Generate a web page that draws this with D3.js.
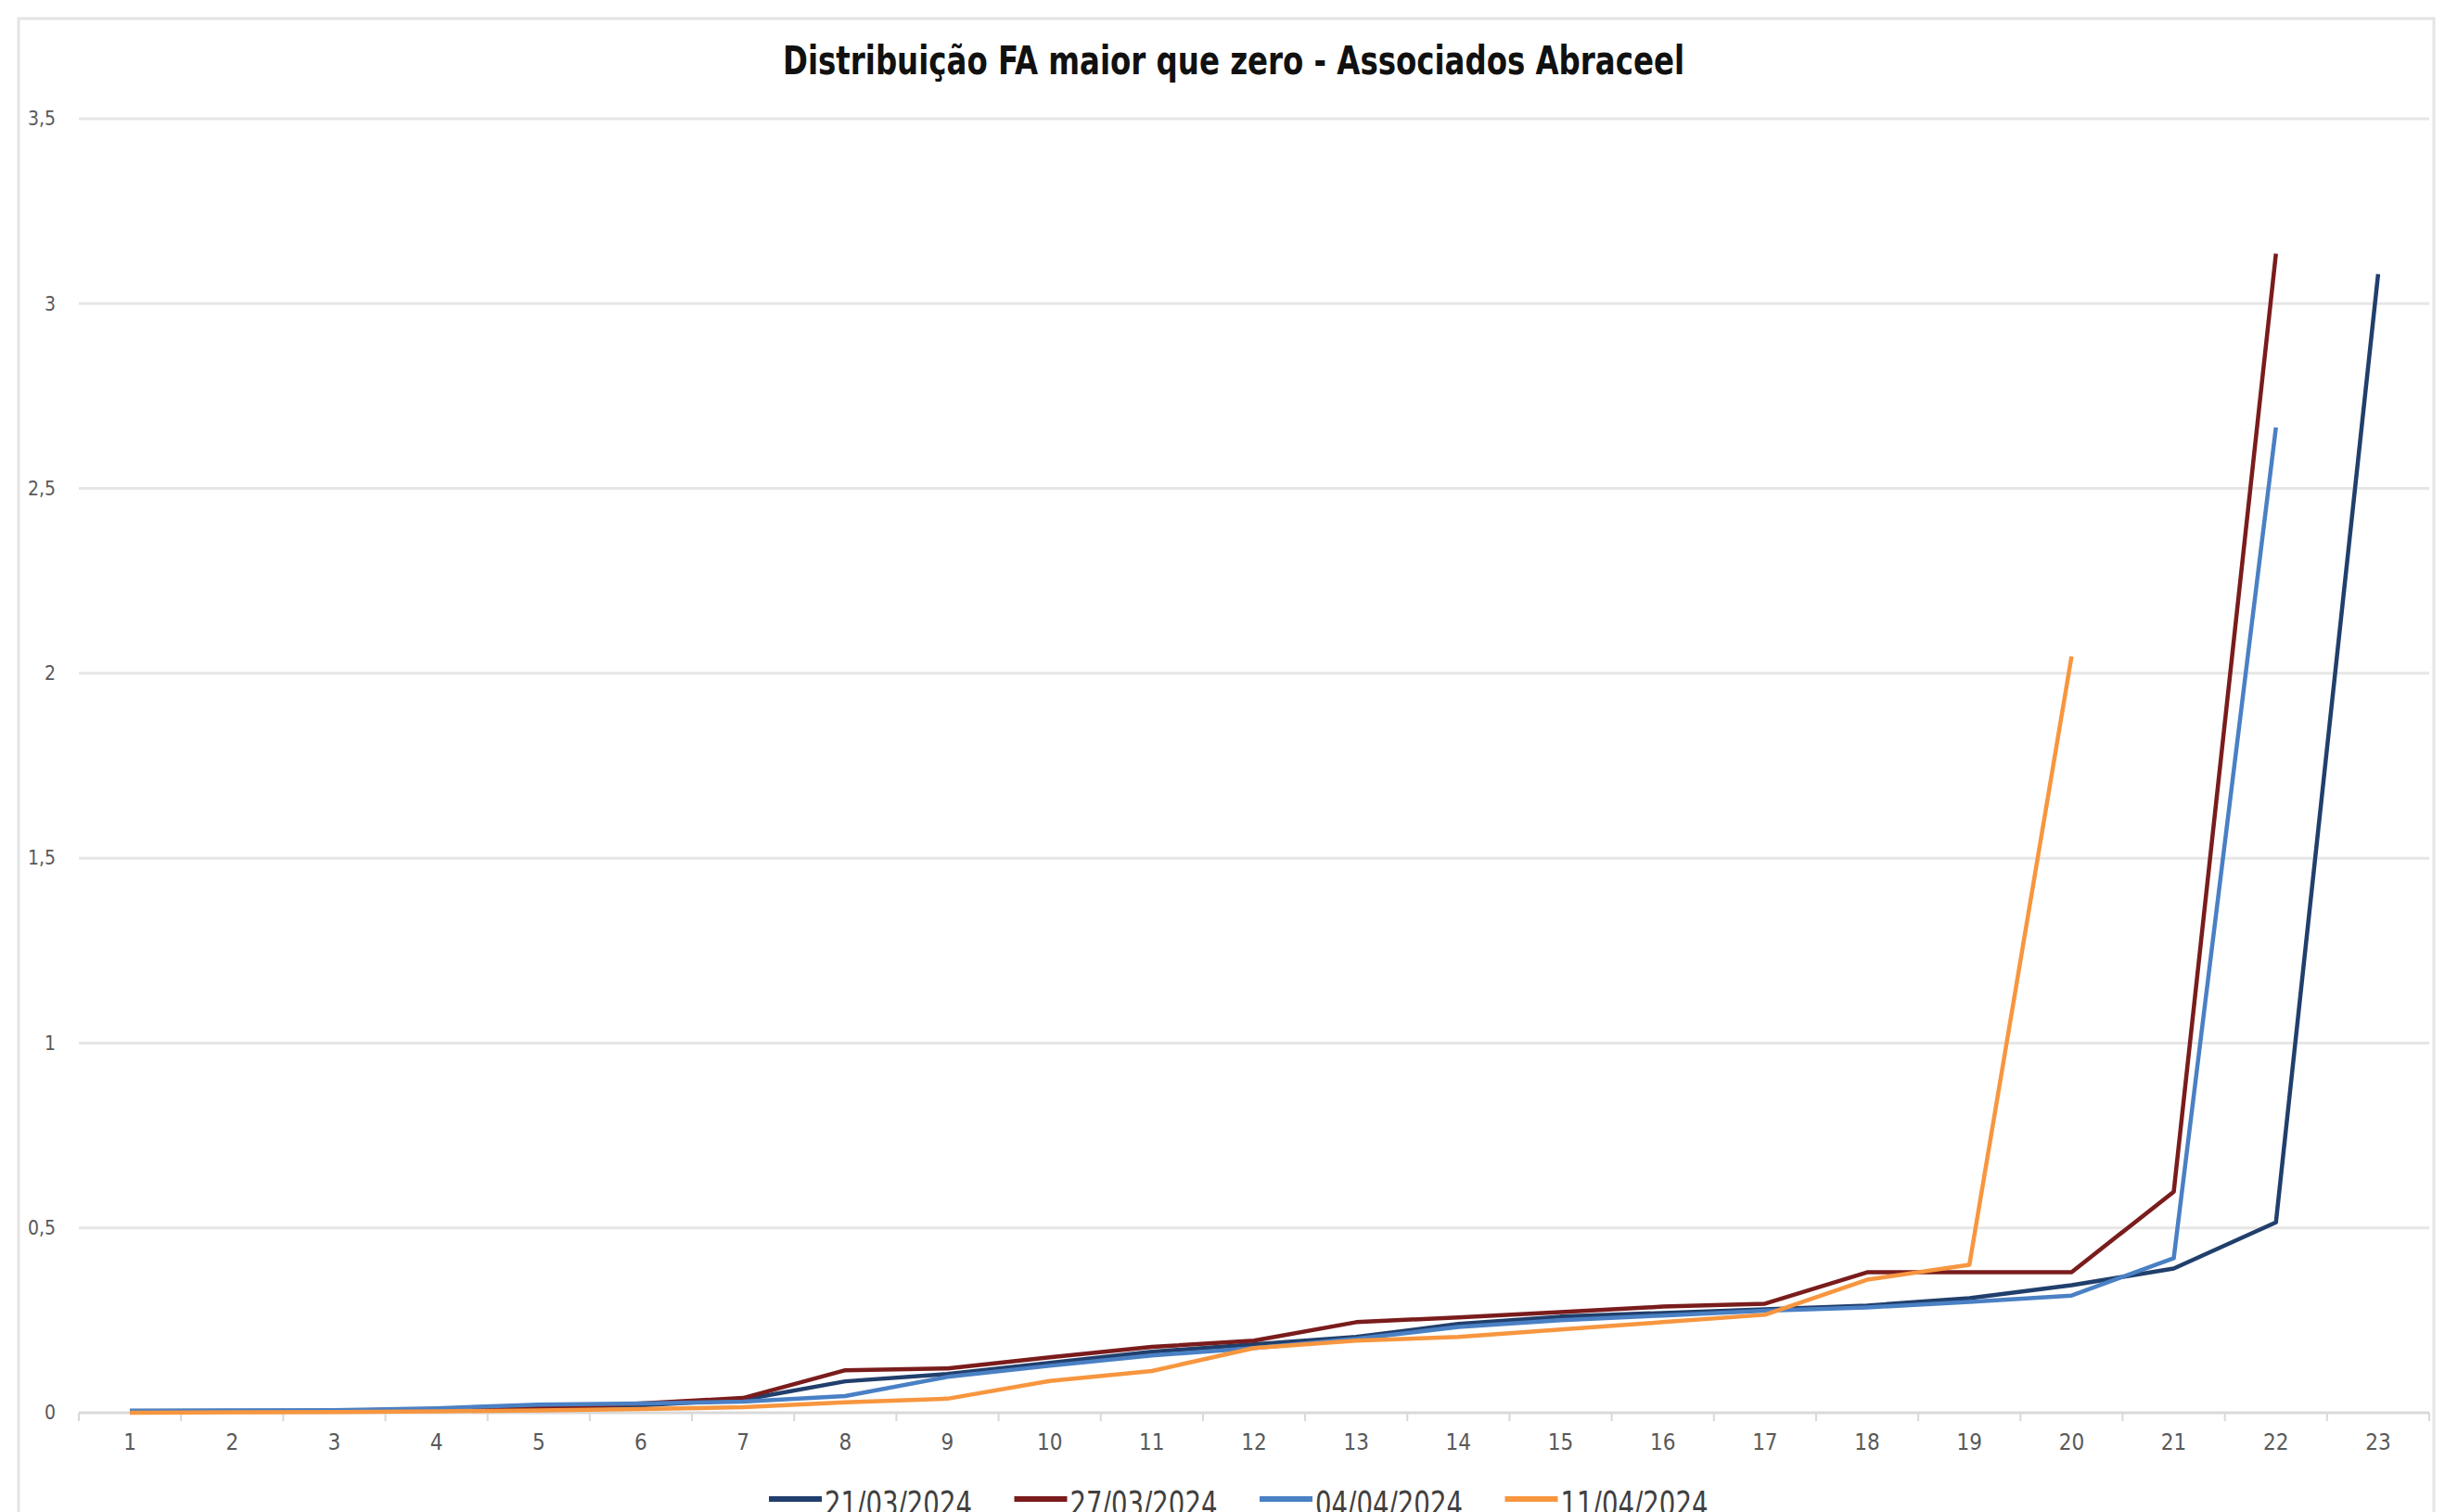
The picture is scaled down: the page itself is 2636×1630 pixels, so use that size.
<!DOCTYPE html>
<html>
<head>
<meta charset="utf-8">
<script src="https://cdn.jsdelivr.net/npm/d3@7"></script>
<style>
  body { margin: 0; background: #fff; }
  .chart text { font-family: "Liberation Sans Narrow", "Arial Narrow", "DejaVu Sans Condensed", sans-serif; }
</style>
</head>
<body>
<div id="chart" class="chart"></div>
<script>
// categories 1..23
const categories = d3.range(1, 24)

const seriesNames = ['21/03/2024', '27/03/2024', '04/04/2024', '11/04/2024']

const s21mar = [0.005, 0.005, 0.005, 0.01, 0.015, 0.02, 0.035, 0.085, 0.105, 0.135, 0.165, 0.185,
  0.205, 0.24, 0.26, 0.27, 0.28, 0.29, 0.31, 0.345, 0.39, 0.515, 3.08]
const s27mar = [0.003, 0.004, 0.005, 0.008, 0.012, 0.025, 0.04, 0.115, 0.12, 0.15, 0.178, 0.195,
  0.245, 0.258, 0.272, 0.287, 0.295, 0.38, 0.38, 0.38, 0.598, 3.135]
const s04abr = [0.005, 0.006, 0.007, 0.012, 0.022, 0.025, 0.03, 0.045, 0.097, 0.127, 0.155, 0.175,
  0.2, 0.232, 0.25, 0.263, 0.276, 0.285, 0.3, 0.317, 0.418, 2.665]
const s11abr = [0.0, 0.001, 0.002, 0.004, 0.006, 0.01, 0.015, 0.028, 0.038, 0.086, 0.113, 0.175,
  0.195, 0.205, 0.225, 0.245, 0.265, 0.36, 0.4, 2.046]

const yTicks = [0, 0.5, 1, 1.5, 2, 2.5, 3, 3.5]
const yTickLabels = ['0', '0,5', '1', '1,5', '2', '2,5', '3', '3,5']

const colors = ['#213f6c', '#7a1c1c', '#4a80c4', '#f7963f']
const allSeries = [s21mar, s27mar, s04abr, s11abr]

const W = 2636
const H = 1630
const margin = { top: 128, right: 17, bottom: 107, left: 85 }

const svg = d3.select('#chart').append('svg')
  .attr('width', W)
  .attr('height', H)

// outer frame
svg.append('rect')
  .attr('x', 20).attr('y', 20)
  .attr('width', 2604).attr('height', 1700)
  .attr('fill', 'none')
  .attr('stroke', '#e4e4e4')
  .attr('stroke-width', 3)

const x = d3.scaleBand()
  .domain(categories)
  .range([margin.left, W - margin.right])
  .padding(0)

const y = d3.scaleLinear()
  .domain([0, 3.5])
  .range([H - margin.bottom, margin.top])

const cx = d => x(d) + x.bandwidth() / 2

// gridlines
svg.append('g')
  .selectAll('line')
  .data(yTicks.slice(1))
  .enter().append('line')
  .attr('x1', margin.left)
  .attr('x2', W - margin.right)
  .attr('y1', d => y(d))
  .attr('y2', d => y(d))
  .attr('stroke', '#e6e6e6')
  .attr('stroke-width', 3)

// y labels
svg.append('g')
  .selectAll('text')
  .data(yTicks)
  .enter().append('text')
  .attr('x', 60)
  .attr('y', d => y(d))
  .attr('dy', '0.35em')
  .attr('text-anchor', 'end')
  .attr('font-size', 21)
  .attr('fill', '#595959')
  .text((d, i) => yTickLabels[i])

// x axis line + boundary ticks
const xAxis = svg.append('g')
xAxis.append('line')
  .attr('x1', margin.left)
  .attr('x2', W - margin.right)
  .attr('y1', y(0))
  .attr('y2', y(0))
  .attr('stroke', '#d9d9d9')
  .attr('stroke-width', 3)

const bounds = categories.map(d => x(d)).concat([x(categories[categories.length - 1]) + x.bandwidth()])
xAxis.selectAll('.tick')
  .data(bounds)
  .enter().append('line')
  .attr('class', 'tick')
  .attr('x1', d => d)
  .attr('x2', d => d)
  .attr('y1', y(0))
  .attr('y2', y(0) + 9)
  .attr('stroke', '#d9d9d9')
  .attr('stroke-width', 2)

xAxis.selectAll('.lbl')
  .data(categories)
  .enter().append('text')
  .attr('class', 'lbl')
  .attr('x', d => cx(d))
  .attr('y', y(0) + 32)
  .attr('dy', '0.35em')
  .attr('text-anchor', 'middle')
  .attr('font-size', 24)
  .attr('fill', '#595959')
  .text(d => d)

// lines
const line = d3.line()
  .x((d, i) => cx(categories[i]))
  .y(d => y(d))

svg.append('g')
  .selectAll('path')
  .data(allSeries)
  .enter().append('path')
  .attr('d', d => line(d))
  .attr('fill', 'none')
  .attr('stroke', (d, i) => colors[i])
  .attr('stroke-width', 4.5)
  .attr('stroke-linejoin', 'round')

// title
svg.append('text')
  .attr('x', 1330)
  .attr('y', 80)
  .attr('text-anchor', 'middle')
  .attr('font-size', 42)
  .attr('font-weight', 'bold')
  .attr('fill', '#111')
  .attr('textLength', 972)
  .attr('lengthAdjust', 'spacingAndGlyphs')
  .text('Distribuição FA maior que zero - Associados Abraceel')

// legend
const legend = svg.append('g')
  .attr('transform', 'translate(829, 1616)')

const item = legend.selectAll('g')
  .data(seriesNames)
  .enter().append('g')
  .attr('transform', (d, i) => `translate(${i * 264.5}, 0)`)

item.append('line')
  .attr('x1', 0).attr('x2', 57)
  .attr('stroke', (d, i) => colors[i])
  .attr('stroke-width', 6)

item.append('text')
  .attr('x', 60)
  .attr('y', 18)
  .attr('font-size', 38)
  .attr('fill', '#404040')
  .attr('textLength', 159)
  .attr('lengthAdjust', 'spacingAndGlyphs')
  .text(d => d)
</script>
</body>
</html>
